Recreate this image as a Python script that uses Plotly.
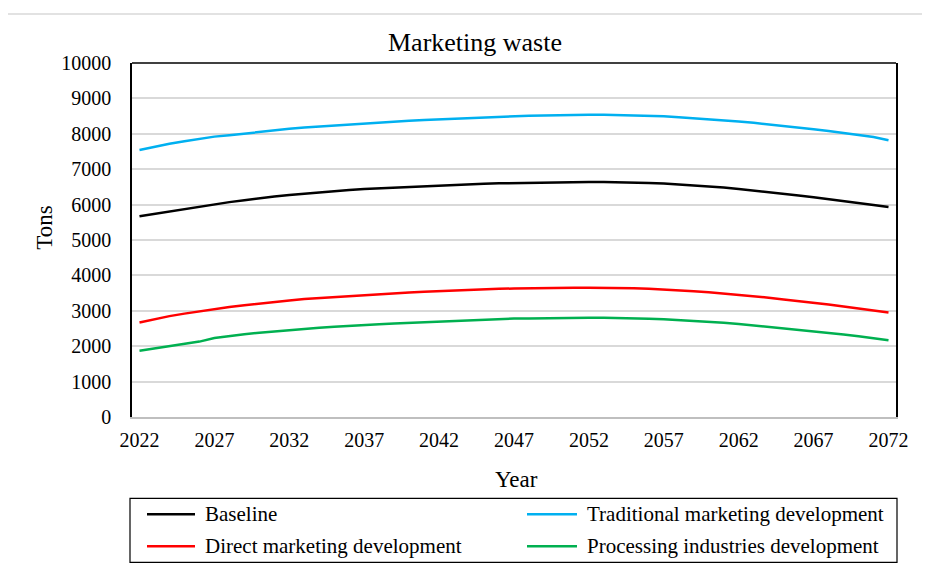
import plotly.graph_objects as go

years = list(range(2022, 2073))

baseline = [5670, 5740, 5810, 5880, 5950, 6010, 6070, 6120, 6180, 6230,
            6270, 6310, 6350, 6380, 6410, 6440, 6460, 6490, 6510, 6530,
            6550, 6560, 6580, 6590, 6600, 6610, 6620, 6630, 6635, 6640,
            6640, 6640, 6635, 6625, 6610, 6595, 6570, 6545, 6515, 6480,
            6440, 6400, 6350, 6300, 6260, 6210, 6160, 6110, 6050, 5990, 5930]

traditional = [7540, 7640, 7720, 7790, 7860, 7920, 7960, 8010, 8060, 8100,
               8140, 8180, 8210, 8240, 8270, 8290, 8320, 8340, 8370, 8390,
               8410, 8430, 8450, 8465, 8480, 8495, 8510, 8520, 8530, 8535,
               8540, 8535, 8530, 8520, 8510, 8495, 8470, 8445, 8420, 8390,
               8350, 8310, 8270, 8220, 8180, 8130, 8080, 8020, 7970, 7910, 7820]

direct = [2670, 2770, 2850, 2920, 2990, 3050, 3110, 3160, 3210, 3250,
          3290, 3330, 3360, 3390, 3420, 3450, 3470, 3500, 3520, 3540,
          3560, 3580, 3590, 3610, 3620, 3630, 3640, 3645, 3650, 3650,
          3650, 3650, 3645, 3635, 3620, 3605, 3580, 3555, 3525, 3490,
          3450, 3410, 3370, 3320, 3280, 3230, 3180, 3120, 3070, 3010, 2955]

processing = [1870, 1940, 2010, 2070, 2130, 2230, 2290, 2340, 2380, 2420,
              2460, 2490, 2520, 2550, 2580, 2600, 2620, 2640, 2660, 2680,
              2700, 2720, 2730, 2750, 2760, 2780, 2785, 2795, 2800, 2805,
              2805, 2805, 2800, 2790, 2775, 2760, 2740, 2715, 2690, 2660,
              2630, 2590, 2550, 2510, 2470, 2420, 2380, 2330, 2280, 2230, 2170]

series_names = ["Baseline", "Traditional marketing development",
                "Direct marketing development", "Processing industries development"]
series_values = [baseline, traditional, direct, processing]
series_colors = ["#000000", "#00B0F0", "#FF0000", "#00B050"]

x_tickvals = list(range(2022, 2073, 5))
y_tickvals = list(range(0, 10001, 1000))
y_ticktext = [str(v) for v in y_tickvals]

# the page body has an 8px margin; layout is specified in screen pixels
OFF = 8
W, H = 930 - OFF, 565 - OFF
PLOT_L, PLOT_R, PLOT_T, PLOT_B = 132, 896, 63, 417.5  # screen px
L, R = PLOT_L - OFF, W - (PLOT_R - OFF)
T, B = PLOT_T - OFF, H - (PLOT_B - OFF)
PW, PH = W - L - R, H - T - B

def px(x):
    return (x - OFF - L) / PW

def py(y):
    return (H - B - (y - OFF)) / PH

FONT = "Liberation Serif, Times New Roman, serif"

fig = go.Figure()
for name, vals, col in zip(series_names, series_values, series_colors):
    fig.add_trace(go.Scatter(x=years, y=vals, mode="lines", name=name,
                             line=dict(color=col, width=2.5), showlegend=False))

# legend (drawn as shapes + text, laid out in two columns like the reference)
legend_pos = [(147, 195, 203, 515), (527, 577, 585, 515),
              (147, 195, 203, 547), (527, 577, 585, 547)]

shapes = [
    dict(type="line", xref="paper", yref="paper", x0=0, x1=1, y0=1, y1=1,
         line=dict(color="black", width=1.5)),
    dict(type="rect", xref="paper", yref="paper",
         x0=px(130), x1=px(897), y0=py(499), y1=py(563),
         line=dict(color="black", width=1.2)),
    dict(type="rect", xref="paper", yref="paper",
         x0=px(5), x1=px(960), y0=py(14), y1=py(600),
         line=dict(color="#D9D9D9", width=1.5), layer="below"),
]
annotations = [
    dict(text="Tons", xref="paper", yref="paper", x=px(45), y=py(228),
         showarrow=False, textangle=-90, font=dict(size=23, family=FONT),
         xanchor="center", yanchor="middle"),
    dict(text="Year", xref="paper", yref="paper", x=px(516), y=py(480),
         showarrow=False, font=dict(size=23, family=FONT),
         xanchor="center", yanchor="middle"),
]
for (x0, x1, xt, yc), name, col in zip(legend_pos, series_names, series_colors):
    shapes.append(dict(type="line", xref="paper", yref="paper",
                       x0=px(x0), x1=px(x1), y0=py(yc), y1=py(yc),
                       line=dict(color=col, width=2.5)))
    annotations.append(dict(text=name, xref="paper", yref="paper",
                            x=px(xt), y=py(yc), showarrow=False,
                            xanchor="left", yanchor="middle",
                            font=dict(size=21, family=FONT)))

fig.update_layout(
    width=W, height=H,
    margin=dict(l=L, r=R, t=T, b=B, autoexpand=False),
    paper_bgcolor="white", plot_bgcolor="white",
    font=dict(family=FONT, color="black", size=20),
    title=dict(text="Marketing waste", font=dict(size=26, family=FONT),
               x=(475 - OFF) / W, xref="container", xanchor="center",
               y=1 - (42 - OFF) / H, yref="container", yanchor="middle"),
    xaxis=dict(range=[2021.5, 2072.5], tickvals=x_tickvals,
               showgrid=False, zeroline=False, automargin=False,
               showline=True, linecolor="#BFBFBF", linewidth=1.5,
               ticks="", ticklabelstandoff=4,
               tickfont=dict(size=20, family=FONT)),
    yaxis=dict(range=[0, 10000], tickvals=y_tickvals, ticktext=y_ticktext,
               showgrid=True, gridcolor="#D9D9D9", gridwidth=1.5,
               zeroline=False, showline=True, linecolor="black",
               linewidth=1.5, mirror=True, automargin=False,
               ticks="", ticklabelstandoff=15,
               tickfont=dict(size=20, family=FONT)),
    showlegend=False,
    shapes=shapes,
    annotations=annotations,
)

fig.write_html("out.html")
